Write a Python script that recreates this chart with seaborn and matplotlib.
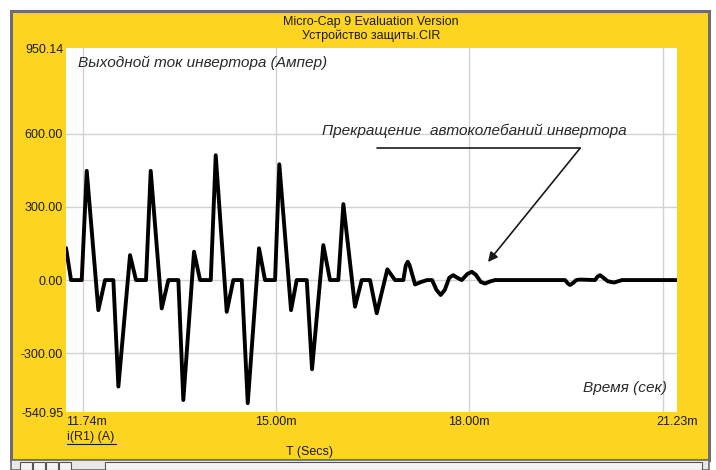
import numpy as np
import pandas as pd
import matplotlib
matplotlib.use("Agg")
import matplotlib.pyplot as plt
import seaborn as sns
from matplotlib.patches import Rectangle
from matplotlib.lines import Line2D

# Inverter output current, I(R1): time in ms, current in A
t_ms = [11.741, 11.818, 11.984,
        12.062, 12.242, 12.346, 12.475, 12.553, 12.734, 12.827, 12.982,
        13.055, 13.226, 13.329, 13.484, 13.561, 13.727, 13.821, 13.987,
        14.064, 14.235, 14.337, 14.468, 14.561, 14.736, 14.829, 14.985,
        15.051, 15.233, 15.321, 15.477, 15.559, 15.734, 15.838, 15.967,
        16.045, 16.226, 16.330, 16.459, 16.563, 16.728, 16.847, 16.976,
        17.014, 17.044, 17.074, 17.158, 17.250, 17.344, 17.422,
        17.490, 17.556, 17.620, 17.690, 17.752, 17.810, 17.882,
        17.970, 18.037, 18.100, 18.180, 18.244, 18.320, 18.399, 19.486,
        19.530, 19.564, 19.610, 19.660, 19.719, 19.952,
        19.990, 20.029, 20.070, 20.150, 20.247, 20.310, 20.371, 21.230]
i_amp = [131, 0, 0,
         447, -123, 0, 0, -436, 102, 0, 0,
         447, -116, 0, 0, -491, 116, 0, 0,
         511, -130, 0, 0, -504, 130, 0, 0,
         474, -123, 0, 0, -365, 143, 0, 0,
         311, -109, 0, 0, -136, 44, 0, 0,
         60, 75, 60, -18, -8, 0, 0,
         -40, -61, -40, 10, 20, 10, 0,
         25, 34, 22, -8, -14, -6, 0, 0,
         -14, -20, -12, 0, 2, 0,
         14, 20, 12, -5, -10, -5, 0, 0]

x_range = (11.74, 21.23)
y_range = (-540.95, 950.14)
x_tick_vals = [11.74, 15.00, 18.00, 21.23]
x_tick_text = ["11.74m", "15.00m", "18.00m", "21.23m"]
x_grid_vals = [12.0, 15.0, 18.0, 21.0]
y_tick_vals = [-540.95, -300.0, 0.0, 300.0, 600.0, 950.14]
y_tick_text = ["-540.95", "-300.00", "0.00", "300.00", "600.00", "950.14"]
y_grid_vals = [-300.0, 0.0, 300.0, 600.0]

sns.set_theme(style="white")
plt.rcParams["font.family"] = ["Liberation Sans", "DejaVu Sans"]

W, H = 716, 470
YELLOW = "#fdd520"
TXT = "#1c1c1c"
NOTE = "#2a2a2a"

fig = plt.figure(figsize=(W / 100, H / 100), dpi=100)
fig.patch.set_facecolor("white")


def fx(px):
    return px / W


def fy(py):
    return 1 - py / H


# window frame and yellow plot background
fig.add_artist(Rectangle((fx(11), fy(460)), (709 - 11) / W, (460 - 11) / H,
                         transform=fig.transFigure, facecolor=YELLOW,
                         edgecolor="#6e6e6e", lw=2.2, zorder=0))
# scrollbar strip along the bottom
fig.add_artist(Rectangle((fx(11), fy(470)), (709 - 11) / W, 10 / H,
                         transform=fig.transFigure, facecolor="#e8e8e8",
                         edgecolor="#6e6e6e", lw=1.2, zorder=0))
for k in range(4):
    fig.add_artist(Rectangle((fx(20 + k * 13), fy(470)), 12 / W, 8 / H,
                             transform=fig.transFigure, facecolor="#f4f4f4",
                             edgecolor="#555555", lw=0.8, zorder=1))
fig.add_artist(Rectangle((fx(105), fy(470)), (702 - 105) / W, 8 / H,
                         transform=fig.transFigure, facecolor="#f4f4f4",
                         edgecolor="#555555", lw=0.8, zorder=1))

ax = fig.add_axes([fx(66), fy(412.2), (677.4 - 66) / W, (412.2 - 48) / H])
ax.set_facecolor("white")

# grid
for gx in x_grid_vals:
    ax.axvline(gx, color="#d2d2d2", lw=1.0, zorder=1)
for gy in y_grid_vals:
    ax.axhline(gy, color="#d2d2d2", lw=1.0, zorder=1)

df = pd.DataFrame({"t": t_ms, "i": i_amp})
sns.lineplot(data=df, x="t", y="i", ax=ax, color="black", lw=2.8,
             sort=False, estimator=None, zorder=3)
for ln in ax.lines:
    ln.set_solid_joinstyle("round")
    ln.set_solid_capstyle("round")

ax.set_xlim(*x_range)
ax.set_ylim(*y_range)

ax.set_xticks(x_tick_vals)
ax.set_xticklabels(x_tick_text)
ax.set_yticks(y_tick_vals)
ax.set_yticklabels(y_tick_text)
ax.grid(False)
ax.tick_params(which="both", length=0)
ax.tick_params(axis="x", pad=3, labelsize=9, labelcolor=TXT)
ax.tick_params(axis="y", pad=2, labelsize=9, labelcolor=TXT)
ax.get_xticklabels()[0].set_ha("left")
for s in ax.spines.values():
    s.set_visible(False)
ax.set_xlabel("")
ax.set_ylabel("")

# notes inside the plot
ax.text(0.0196, 0.96, "Выходной ток инвертора (Ампер)", transform=ax.transAxes,
        ha="left", va="center", style="italic", fontsize=11.1, color=NOTE)
ax.text(0.983, 0.066, "Время (сек)", transform=ax.transAxes,
        ha="right", va="center", style="italic", fontsize=11.1, color=NOTE)
ax.text(18.08, 613, "Прекращение  автоколебаний инвертора",
        ha="center", va="center", style="italic", fontsize=11.1, color=NOTE)
ax.plot([16.57, 19.72], [540, 540], color="#1a1a1a", lw=1.2, zorder=4)
ax.annotate("", xy=(18.29, 74), xytext=(19.72, 540),
            arrowprops=dict(arrowstyle="-|>", color="#1a1a1a", lw=1.2,
                            mutation_scale=14, shrinkA=0, shrinkB=0), zorder=4)

# window texts
fig.text(fx(371), fy(22), "Micro-Cap 9 Evaluation Version", ha="center",
         va="center", fontsize=9, color=TXT)
fig.text(fx(371), fy(36), "Устройство защиты.CIR", ha="center",
         va="center", fontsize=9, color=TXT)
fig.text(fx(67), fy(437), "i(R1) (A)", ha="left", va="center", fontsize=9,
         color=TXT)
fig.add_artist(Line2D([fx(67), fx(116)], [fy(444), fy(444)],
                      transform=fig.transFigure, color=TXT, lw=0.8))
fig.text(fx(309), fy(452), "T (Secs)", ha="center", va="center", fontsize=9,
         color=TXT)

fig.savefig("out.png", dpi=100)
